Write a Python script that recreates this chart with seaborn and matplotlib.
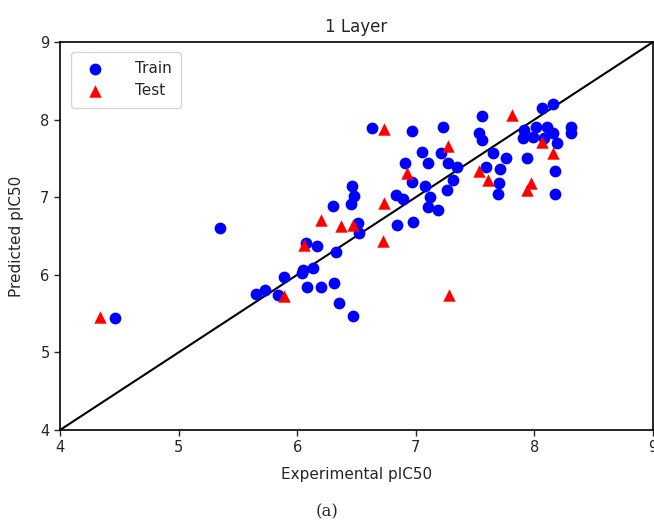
import matplotlib
matplotlib.use("Agg")
import matplotlib.pyplot as plt
import seaborn as sns
import pandas as pd

train_x = [4.46, 5.35, 5.65, 5.73, 5.84, 5.89, 6.04, 6.05, 6.13, 6.07, 6.17, 6.08, 6.20, 6.31,
           6.35, 6.47, 6.33, 6.30, 6.46, 6.48, 6.45, 6.51, 6.52, 6.63, 6.84, 6.98, 6.97, 7.23,
           7.05, 6.91, 7.10, 7.27, 7.35, 6.97, 7.08, 7.31, 7.26, 6.83, 6.89, 7.12, 7.10, 7.19,
           7.21, 7.56, 7.53, 7.56, 7.59, 7.65, 7.76, 7.71, 7.70, 7.69, 7.94, 8.06, 8.16, 7.91,
           8.01, 8.11, 8.16, 7.90, 7.99, 8.08, 8.19, 8.31, 8.31, 8.17, 8.17]
train_y = [5.44, 6.60, 5.75, 5.80, 5.74, 5.97, 6.02, 6.06, 6.09, 6.41, 6.37, 5.84, 5.84, 5.89,
           5.64, 5.47, 6.29, 6.89, 7.14, 7.02, 6.91, 6.67, 6.54, 7.89, 6.64, 6.68, 7.85, 7.90,
           7.58, 7.44, 7.44, 7.44, 7.39, 7.20, 7.14, 7.22, 7.09, 7.03, 6.98, 7.00, 6.87, 6.84,
           7.57, 8.05, 7.83, 7.74, 7.39, 7.57, 7.51, 7.36, 7.18, 7.04, 7.51, 8.15, 8.20, 7.87,
           7.90, 7.90, 7.83, 7.76, 7.78, 7.76, 7.70, 7.90, 7.83, 7.34, 7.04]

test_x = [4.34, 5.89, 6.06, 6.20, 6.37, 6.47, 6.72, 6.73, 6.73, 6.93, 7.27, 7.28, 7.53, 7.61,
          7.81, 8.06, 8.16, 7.97, 7.94]
test_y = [5.46, 5.73, 6.38, 6.71, 6.63, 6.64, 6.44, 6.93, 7.88, 7.31, 7.66, 5.74, 7.34, 7.22,
          8.06, 7.71, 7.57, 7.18, 7.09]

x_ticks = [4, 5, 6, 7, 8, 9]
y_ticks = [4, 5, 6, 7, 8, 9]
line_pts = [4, 9]

sns.set_style("ticks")
plt.rcParams['font.family'] = ['DejaVu Sans']

fig = plt.figure(figsize=(6.54, 5.23), dpi=100)
ax = fig.add_axes([60/654, 1 - 430/523, 593/654, 388/523])

train_df = pd.DataFrame({"Experimental pIC50": train_x, "Predicted pIC50": train_y})
test_df = pd.DataFrame({"Experimental pIC50": test_x, "Predicted pIC50": test_y})

sns.scatterplot(data=train_df, x="Experimental pIC50", y="Predicted pIC50", ax=ax,
                color="blue", marker="o", s=72, linewidth=0, label="Train", zorder=3)
sns.scatterplot(data=test_df, x="Experimental pIC50", y="Predicted pIC50", ax=ax,
                color="red", marker="^", s=80, linewidth=0, label="Test", zorder=3)
sns.lineplot(x=line_pts, y=line_pts, ax=ax, color="black", linewidth=1.5, zorder=2)

ax.set_xlim(4, 9)
ax.set_ylim(4, 9)
ax.set_xticks(x_ticks)
ax.set_yticks(y_ticks)
ax.tick_params(labelsize=10.5, length=4, width=1, direction="out")
for sp in ax.spines.values():
    sp.set_visible(True)
    sp.set_linewidth(1.2)
    sp.set_color("black")
ax.set_title("1 Layer", fontsize=12, pad=7)
ax.set_xlabel("Experimental pIC50", fontsize=11, labelpad=8)
ax.set_ylabel("Predicted pIC50", fontsize=11, labelpad=12)

leg = ax.legend(loc="upper left", fontsize=11, handletextpad=1.6, borderpad=0.6,
                frameon=True, fancybox=True, framealpha=0.8, edgecolor="#cccccc",
                bbox_to_anchor=(0.005, 0.995))

fig.text(0.5, 1 - 512/523, "(a)", ha="center", va="center", fontsize=12,
         family=["DejaVu Serif"])

fig.savefig("out.png", dpi=100)
